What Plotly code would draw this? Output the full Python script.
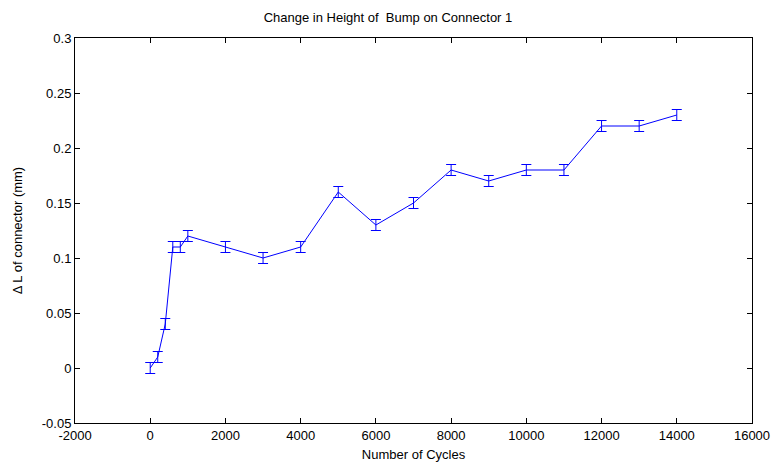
import plotly.graph_objects as go

# Measured bump height change vs. cycle count
cycles = [0, 200, 400, 600, 800, 1000, 2000, 3000, 4000, 5000, 6000, 7000,
          8000, 9000, 10000, 11000, 12000, 13000, 14000]
delta_l = [0.0, 0.01, 0.04, 0.11, 0.11, 0.12, 0.11, 0.10, 0.11, 0.16, 0.13,
           0.15, 0.18, 0.17, 0.18, 0.18, 0.22, 0.22, 0.23]
err = [0.005] * len(cycles)

x_ticks = [-2000, 0, 2000, 4000, 6000, 8000, 10000, 12000, 14000, 16000]
x_labels = ["-2000", "0", "2000", "4000", "6000", "8000", "10000", "12000",
            "14000", "16000"]
y_ticks = [-0.05, 0, 0.05, 0.1, 0.15, 0.2, 0.25, 0.3]
y_labels = ["-0.05", "0", "0.05", "0.1", "0.15", "0.2", "0.25", "0.3"]

blue = "rgb(0,0,255)"
font = "Liberation Sans, Arial, Helvetica, sans-serif"

fig = go.Figure()
fig.add_trace(go.Scatter(
    x=cycles, y=delta_l, mode="lines",
    line=dict(color=blue, width=1),
    error_y=dict(type="data", array=err, visible=True,
                 color=blue, thickness=1, width=5),
    showlegend=False,
))

axis_common = dict(
    showgrid=False, zeroline=False, showline=True, linecolor="black",
    linewidth=1, mirror="allticks", ticks="inside", ticklen=5,
    tickcolor="black", automargin=False,
    tickfont=dict(family=font, size=13, color="black"),
)

fig.update_layout(
    width=776, height=466,
    margin=dict(l=75, r=24, t=38, b=43),
    paper_bgcolor="white", plot_bgcolor="white",
    font=dict(family=font, size=13, color="black"),
    title=dict(text="Change in Height of\u00a0 Bump on Connector 1",
               x=0.5, xanchor="center", y=0.962, yanchor="middle",
               font=dict(family=font, size=13, color="black")),
    xaxis=dict(range=[-2000, 16000], tickvals=x_ticks, ticktext=x_labels,
               title=dict(text="Number of Cycles", standoff=8,
                          font=dict(family=font, size=13)),
               **axis_common),
    yaxis=dict(range=[-0.05, 0.3], tickvals=y_ticks, ticktext=y_labels,
               title=dict(text="\u0394 L of connector (mm)", standoff=16,
                          font=dict(family=font, size=13)),
               **axis_common),
)

fig.write_html("out.html")
